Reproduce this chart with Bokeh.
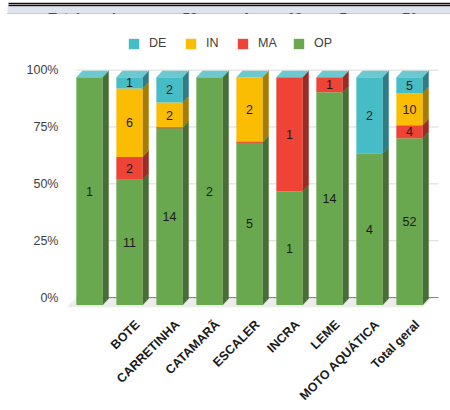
from bokeh.plotting import figure
from bokeh.models import Range1d, Legend, LegendItem, FixedTicker
from bokeh.core.properties import value
from bokeh.embed import file_html
from bokeh.resources import INLINE

categories = [" ", "BOTE", "CARRETINHA", "CATAMARÃ", "ESCALER", "INCRA", "LEME", "MOTO AQUÁTICA", "Total geral"]
OP = [1, 11, 14, 2, 5, 1, 14, 4, 52]
MA = [0, 2, 0, 0, 0, 1, 1, 0, 4]
IN = [0, 6, 2, 0, 2, 0, 0, 0, 10]
DE = [0, 1, 2, 0, 0, 0, 0, 2, 5]
y_ticks = [0, 25, 50, 75, 100]
y_labels = {0: "0%", 25: "25%", 50: "50%", 75: "75%", 100: "100%"}
zero_slivers = ["CARRETINHA", "ESCALER"]
table_texts = ["Total geral", "52", "4", "10", "5", "71"]
table_x = [48, 182, 241, 287, 339, 402]

FONT = "Liberation Sans"
series = [
    ("OP", OP, "#6AA84F", "#466E36"),
    ("MA", MA, "#EE4335", "#9A2C24"),
    ("IN", IN, "#FBBC04", "#A67C02"),
    ("DE", DE, "#46BDC6", "#2E7C84"),
]
TOP_COLOR = "#6CC9D0"

BAR_W = 0.6575
DX = 0.15
DY = 2.85
BASE = -3.3
SCALE = 100.2 / 100

# strip showing the bottom of the table above the chart
strip = figure(width=450, height=14, x_range=Range1d(0, 450), y_range=Range1d(14, 0),
               toolbar_location=None, output_backend="svg", min_border=0,
               x_axis_type=None, y_axis_type=None, outline_line_color=None)
strip.xgrid.visible = False
strip.ygrid.visible = False
strip.quad(left=[7], right=[450], top=[6], bottom=[14], fill_color="#DFE5EE", line_color=None)
strip.segment(x0=[8, 8], x1=[450, 450], y0=[3, 5], y1=[3, 5], line_color="#111111", line_width=1.3)
strip.text(x=table_x, y=[13.5] * 6, y_offset=3, text=table_texts, text_font=value(FONT),
           text_font_size="13.5px", text_font_style="bold", text_color="#111111",
           text_baseline="alphabetic")
strip.segment(x0=[6], x1=[450], y0=[13.6], y1=[13.6], line_color="#A0A0A0", line_width=1)

# chart
PX = 40.0
PY = 2.29
p = figure(width=450, height=396, toolbar_location=None, output_backend="svg",
           x_range=Range1d(-29 / PX, 361 / PX), y_range=Range1d(-13 / PY, 285 / PY),
           min_border_left=60, min_border_right=0, min_border_top=0, min_border_bottom=98,
           outline_line_color=None)
p.xgrid.visible = False
p.ygrid.visible = False

xs = list(range(len(categories)))
left_wall = -0.325
right_wall = xs[-1] + 0.325 + DX

# floor
p.patch([left_wall - 0.25, right_wall - 0.15, right_wall + 0.1, left_wall],
        [BASE - 1.0, BASE - 1.0, 0, 0], fill_color="#ECECEC", line_color=None)
# gridlines
p.segment(x0=[left_wall] * 4, x1=[right_wall + 0.25] * 4, y0=y_ticks[1:], y1=y_ticks[1:],
          line_color="#D9D9D9", line_width=1)
p.segment(x0=[left_wall], x1=[right_wall + 0.25], y0=[0], y1=[0], line_color="#7F7F7F", line_width=1)

totals = [a + b + c + d for a, b, c, d in zip(OP, MA, IN, DE)]
cum = [0.0] * len(xs)
legend_r = {}
lx, ly, lt = [], [], []
for name, vals, col, side in series:
    b0, t0, sx, sy, cx = [], [], [], [], []
    for i, v in enumerate(vals):
        if v == 0:
            continue
        bot = cum[i] / totals[i] * 100 * SCALE + BASE
        top = (cum[i] + v) / totals[i] * 100 * SCALE + BASE
        cum[i] += v
        b0.append(bot)
        t0.append(top)
        cx.append(xs[i])
        xr = xs[i] + BAR_W / 2
        sx.append([xr, xr + DX, xr + DX, xr])
        sy.append([bot, bot + DY, top + DY, top])
        lx.append(xs[i])
        ly.append((bot + top) / 2)
        lt.append(str(v))
    p.patches(sx, sy, fill_color=side, line_color=side, line_width=0.3)
    legend_r[name] = p.vbar(x=cx, bottom=b0, top=t0, width=BAR_W, fill_color=col, line_color=None)

# top faces
tx, ty = [], []
for i in xs:
    xl = xs[i] - BAR_W / 2
    xr = xs[i] + BAR_W / 2
    top = 100 * SCALE + BASE
    tx.append([xl, xr, xr + DX, xl + DX])
    ty.append([top, top, top + DY, top + DY])
p.patches(tx, ty, fill_color=TOP_COLOR, line_color=None)

# hairline slivers of zero-valued MA segments
sl_i = [categories.index(c) for c in zero_slivers]
sl_y = [OP[i] / totals[i] * 100 * SCALE + BASE for i in sl_i]
p.segment(x0=[xs[i] - BAR_W / 2 for i in sl_i], x1=[xs[i] + BAR_W / 2 for i in sl_i],
          y0=sl_y, y1=sl_y, line_color="#EE4335", line_width=1)

p.text(x=lx, y=ly, text=lt, text_font=value(FONT), text_font_size="12.5px", text_color="#1A1A1A",
       text_align="center", text_baseline="middle")

# axes
p.yaxis.ticker = FixedTicker(ticks=y_ticks)
p.yaxis.major_label_overrides = y_labels
p.yaxis.axis_line_color = None
p.yaxis.major_tick_line_color = None
p.yaxis.minor_tick_line_color = None
p.yaxis.major_tick_in = 0
p.yaxis.major_tick_out = 0
p.yaxis.major_label_standoff = 2
p.yaxis.major_label_text_font = FONT
p.yaxis.major_label_text_font_size = "12.5px"
p.yaxis.major_label_text_color = "#404040"

TICK_SHIFT = 0.2
tick_pos = [x + TICK_SHIFT for x in xs[1:]]
p.xaxis.ticker = FixedTicker(ticks=tick_pos)
p.xaxis.major_label_overrides = {t: c for t, c in zip(tick_pos, categories[1:])}
p.xaxis.major_label_orientation = 0.785
p.xaxis.axis_line_color = None
p.xaxis.major_tick_line_color = None
p.xaxis.minor_tick_line_color = None
p.xaxis.major_tick_in = 0
p.xaxis.major_tick_out = 0
p.xaxis.major_label_standoff = 12
p.xaxis.major_label_text_font = FONT
p.xaxis.major_label_text_font_size = "12.5px"
p.xaxis.major_label_text_font_style = "bold"
p.xaxis.major_label_text_color = "#1A1A1A"

legend_order = ["DE", "IN", "MA", "OP"]
legend_left = [67, 124, 176, 232]
for name, lft in zip(legend_order, legend_left):
    legend = Legend(items=[LegendItem(label=name, renderers=[legend_r[name]])],
                    orientation="horizontal", location=(lft, 260), background_fill_alpha=0,
                    border_line_color=None, glyph_width=13, glyph_height=13, label_text_font=FONT,
                    label_text_font_size="12.5px", label_text_color="#404040", spacing=0,
                    label_standoff=9, margin=0, padding=0)
    p.add_layout(legend, "center")

open("out.html", "w").write(file_html([strip, p], INLINE))
